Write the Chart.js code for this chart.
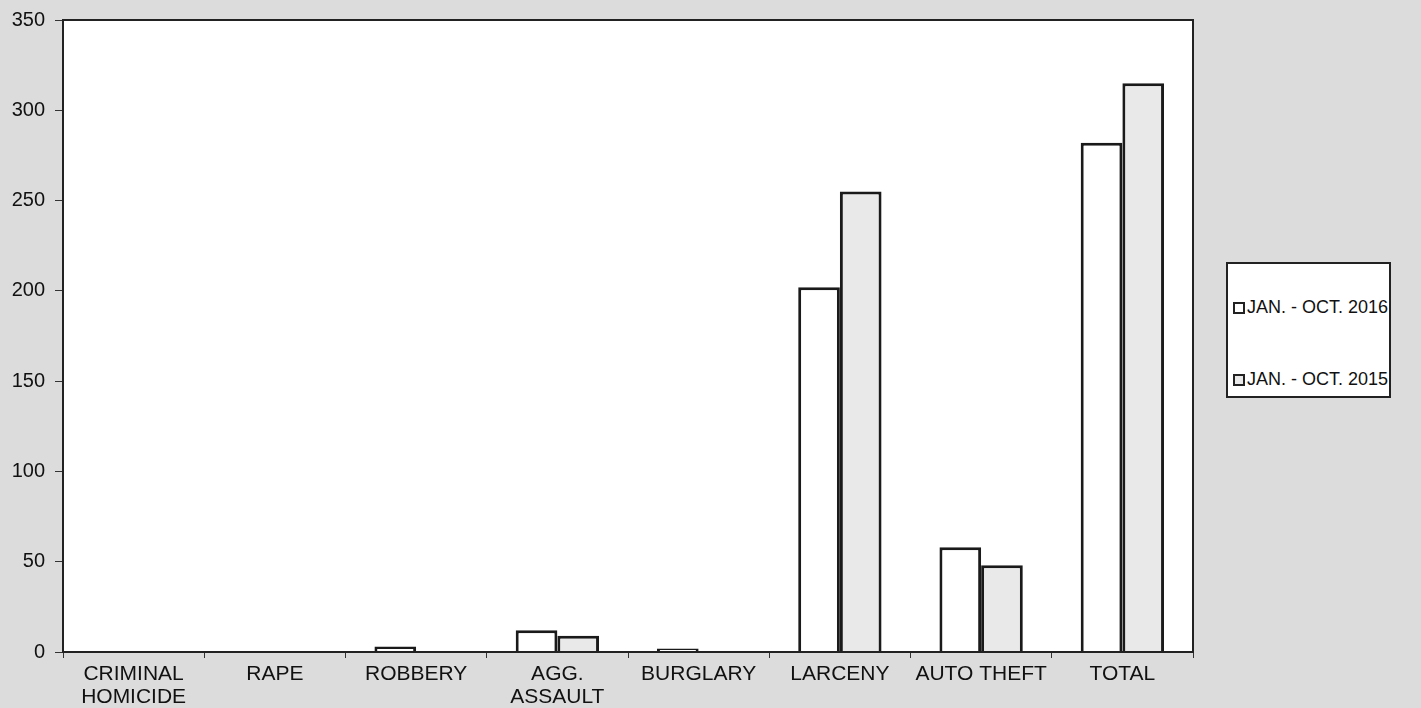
<!DOCTYPE html>
<html>
<head>
<meta charset="utf-8">
<script src="https://cdn.jsdelivr.net/npm/chart.js@4/dist/chart.umd.min.js"></script>
<style>
    html, body { margin: 0; padding: 0; background: #dcdcdc; overflow: hidden; }
    #wrap { position: relative; width: 1421px; height: 708px; }
    #legend {
        position: absolute; left: 1226px; top: 262px; width: 161px; height: 132px;
        background: #fff; border: 2px solid #222;
        font-family: "Liberation Sans", Arial, sans-serif; font-size: 18px; color: #111;
        line-height: 21px;
    }
    .item { position: absolute; left: 5px; display: flex; align-items: center; white-space: nowrap; }
    .swatch { width: 8px; height: 8px; border: 2px solid #222; margin-right: 2px; }
</style>
</head>
<body>
<div id="wrap">
    <canvas id="chart" width="1421" height="708"></canvas>
    <div id="legend"></div>
</div>
<script>
const categories = [["CRIMINAL", "HOMICIDE"], "RAPE", "ROBBERY", ["AGG.", "ASSAULT"], "BURGLARY", "LARCENY", "AUTO THEFT", "TOTAL"];
const series2016 = [0, 0, 3, 12, 2, 202, 58, 282];
const series2015 = [0, 0, 0, 9, 0, 255, 48, 315];
const seriesNames = ["JAN. - OCT. 2016", "JAN. - OCT. 2015"];
const seriesColors = ["#ffffff", "#e9e9e9"];
const yTicks = [0, 50, 100, 150, 200, 250, 300, 350];

const frame = {
    id: "frame",
    afterDatasetsDraw(chart) {
        const { ctx, chartArea: a } = chart;
        ctx.save();
        ctx.strokeStyle = "#222";
        ctx.lineWidth = 2;
        ctx.strokeRect(a.left, a.top, a.right - a.left, a.bottom - a.top);
        ctx.restore();
    }
};

const bg = {
    id: "bg",
    beforeDraw(chart) {
        const { ctx, chartArea: a } = chart;
        ctx.save();
        ctx.fillStyle = "#ffffff";
        ctx.fillRect(a.left, a.top, a.right - a.left, a.bottom - a.top);
        ctx.restore();
    }
};

new Chart(document.getElementById("chart"), {
    type: "bar",
    data: {
        labels: categories,
        datasets: [
            { label: seriesNames[0], data: series2016, backgroundColor: seriesColors[0] },
            { label: seriesNames[1], data: series2015, backgroundColor: seriesColors[1] }
        ]
    },
    options: {
        responsive: false,
        animation: false,
        layout: { padding: { left: 0, right: 228, top: 8, bottom: 0 } },
        datasets: {
            bar: {
                borderColor: "#1a1a1a",
                borderWidth: 3,
                categoryPercentage: 0.59,
                barPercentage: 1
            }
        },
        plugins: { legend: { display: false }, tooltip: { enabled: false } },
        scales: {
            x: {
                afterFit(s) { s.height = 56; },
                grid: { drawOnChartArea: false, tickLength: 6, color: "#333", offset: true },
                border: { color: "#222", width: 2 },
                ticks: {
                    color: "#111", padding: 5, maxRotation: 0, autoSkip: false,
                    font: { family: "'Liberation Sans', Arial, sans-serif", size: 21, lineHeight: 1.1 }
                }
            },
            y: {
                min: 0, max: 350,
                afterFit(s) { s.width = 63; s.paddingTop = 20; },
                afterBuildTicks(s) { s.ticks = yTicks.map(v => ({ value: v })); },
                grid: { drawOnChartArea: false, tickLength: 8, color: "#333" },
                border: { color: "#222", width: 2 },
                ticks: {
                    color: "#111", padding: 10,
                    font: { family: "'Liberation Sans', Arial, sans-serif", size: 20 }
                }
            }
        }
    },
    plugins: [bg, frame]
});

const legend = document.getElementById("legend");
seriesNames.forEach((name, i) => {
    const item = document.createElement("div");
    item.className = "item";
    item.style.top = (i === 0 ? 33 : 105) + "px";
    const sw = document.createElement("span");
    sw.className = "swatch";
    sw.style.background = seriesColors[i];
    const txt = document.createElement("span");
    txt.textContent = name;
    item.appendChild(sw);
    item.appendChild(txt);
    legend.appendChild(item);
});
</script>
</body>
</html>
